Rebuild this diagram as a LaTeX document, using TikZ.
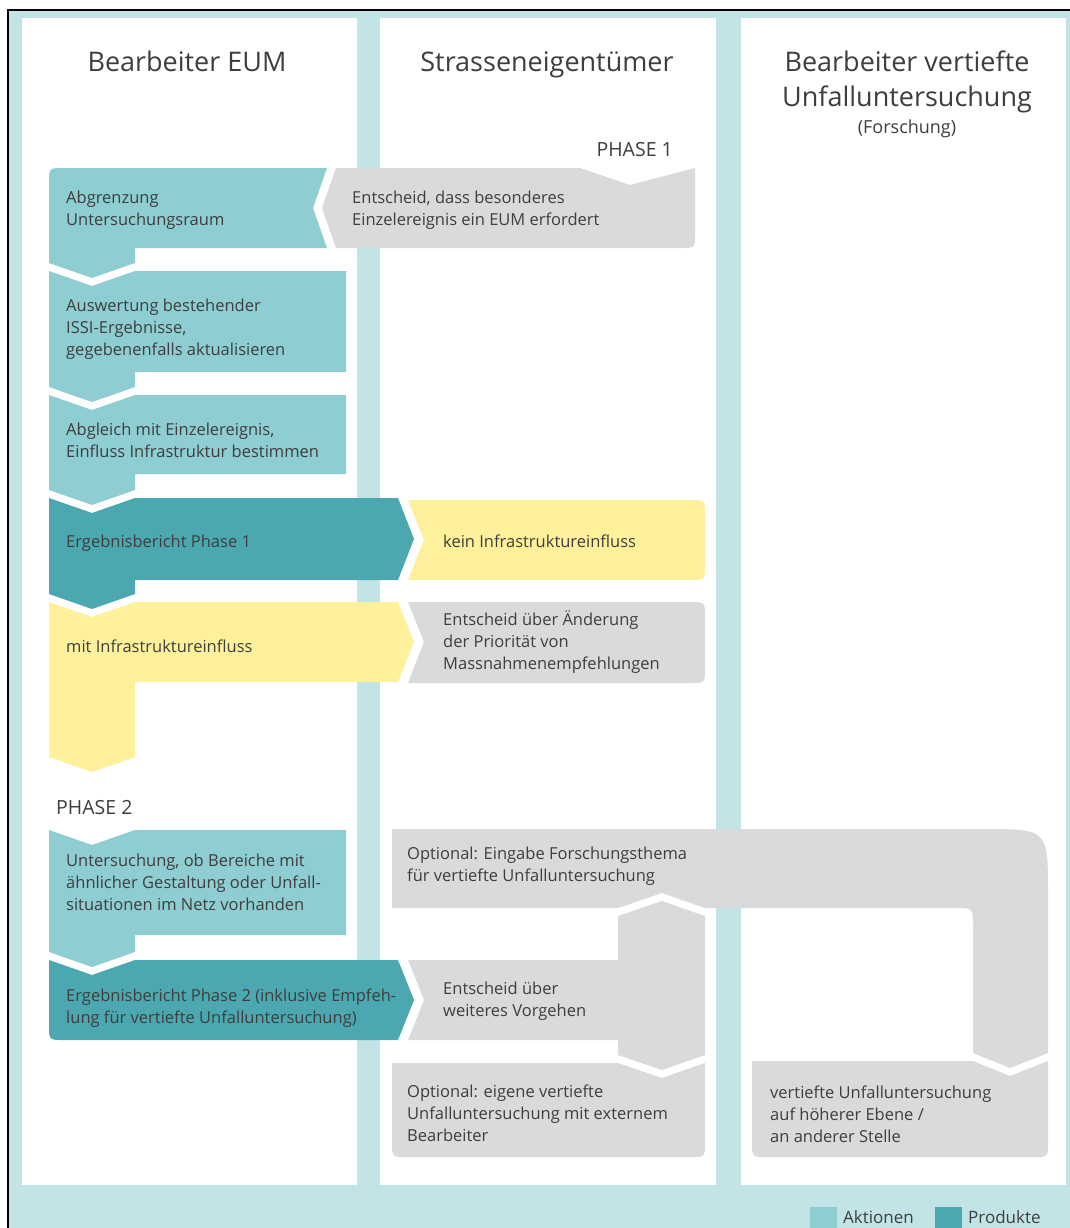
\documentclass[tikz,border=0pt]{standalone}
\usepackage{fontspec}
\setmainfont{Open Sans}
\definecolor{bgcyan}{HTML}{C3E4E6}
\definecolor{aktion}{HTML}{8ECDD1}
\definecolor{produkt}{HTML}{4BA8B0}
\definecolor{gelb}{HTML}{FFF19B}
\definecolor{grau}{HTML}{D9DADC}
\definecolor{schrift}{HTML}{3E3E3E}
\tikzset{
  lbl/.style={anchor=west, inner sep=0pt, align=left, text=schrift,
    font=\fontsize{16.5}{22}\selectfont},
  title/.style={anchor=base, inner sep=0pt, text=schrift, font=\fontsize{27}{36}\selectfont},
  phase/.style={inner sep=0pt, text=schrift, font=\fontsize{19.5}{24}\selectfont},
}
\begin{document}
\begin{tikzpicture}[x=1pt,y=-1pt]
\useasboundingbox (0,0) rectangle (1070,1228);
% frame and swimlanes
\fill[white] (0,0) rectangle (1070,1228);
\fill[bgcyan] (8,10) rectangle (1070,1228);
\fill[white] (22,18) rectangle (357,1185);
\fill[white] (380,18) rectangle (716,1185);
\fill[white] (741,18) rectangle (1066,1185);
\draw[black, line width=2pt] (8,1228) -- (8,10) -- (1070,10);

% lane titles
\node[title] (t1) at (187,72) {Bearbeiter EUM};
\node[title] (t2) at (547,72) {Strasseneigentümer};
\node[title] (t3) at (907,72) {Bearbeiter vertiefte};
\node[title] (t4) at (907,107) {Unfalluntersuchung};
\node[phase, anchor=base, font=\fontsize{18}{22}\selectfont] (t5) at (907,133) {(Forschung)};
\node[phase, anchor=east] (ph1) at (673,150) {PHASE 1};
\node[phase, anchor=west] (ph2) at (56,808) {PHASE 2};

% ---- Phase 1, left lane
\fill[aktion] (49,183) .. controls (49,168) .. (64,168) -- (327,168) -- (313,208)
  -- (327,248) -- (135,248) -- (135,263) -- (92,278) -- (49,263) -- cycle;
\fill[aktion] (49,271) -- (92,286) -- (135,271) -- (346,271) -- (346,372)
  -- (135,372) -- (135,387) -- (92,402) -- (49,387) -- cycle;
\fill[aktion] (49,395) -- (92,410) -- (135,395) -- (346,395) -- (346,474)
  -- (135,474) -- (135,490) -- (92,505) -- (49,490) -- cycle;
\fill[produkt] (49,498) -- (92,513) -- (135,498) -- (398,498) -- (414,539)
  -- (398,580) -- (135,580) -- (135,594) -- (92,609) -- (49,594) -- cycle;
\fill[gelb] (49,602) -- (92,617) -- (135,602) -- (398,602) -- (414,642)
  -- (398,682) -- (135,682) -- (135,757) -- (92,772) -- (49,757) -- cycle;

% ---- Phase 1, middle lane
\fill[grau] (336,168) -- (580,168) -- (630,185) -- (695,168) -- (695,233)
  .. controls (695,248) .. (680,248) -- (336,248) -- (322,208) -- cycle;
\fill[gelb] (408,500) -- (690,500) .. controls (705,500) .. (705,515) -- (705,565)
  .. controls (705,580) .. (690,580) -- (408,580) -- (424,540) -- cycle;
\fill[grau] (408,602) -- (690,602) .. controls (705,602) .. (705,617) -- (705,668)
  .. controls (705,683) .. (690,683) -- (408,683) -- (424,642) -- cycle;

% ---- Phase 2
\fill[aktion] (49,830) -- (92,845) -- (135,830) -- (346,830) -- (346,935)
  -- (135,935) -- (135,952) -- (92,967) -- (49,952) -- cycle;
\fill[produkt] (49,960) -- (92,975) -- (135,960) -- (398,960) -- (414,1000)
  -- (398,1040) -- (64,1040) .. controls (49,1040) .. (49,1025) -- cycle;
\fill[grau] (392,829) -- (983,829) .. controls (1048,829) .. (1048,894)
  -- (1048,1053) -- (1010,1068) -- (973,1053) -- (973,926)
  .. controls (973,908) .. (955,908) -- (705,908) -- (662,893) -- (618,908)
  -- (392,908) -- cycle;
\fill[grau] (408,960) -- (618,960) -- (618,916) -- (662,901) -- (705,916)
  -- (705,1055) -- (662,1070) -- (618,1055) -- (618,1040) -- (408,1040)
  -- (424,1000) -- cycle;
\fill[grau] (392,1063) -- (618,1063) -- (662,1078) -- (705,1063) -- (705,1142)
  .. controls (705,1157) .. (690,1157) -- (407,1157)
  .. controls (392,1157) .. (392,1142) -- cycle;
\fill[grau] (752,1061) -- (973,1061) -- (1010,1076) -- (1048,1061) -- (1048,1142)
  .. controls (1048,1157) .. (1033,1157) -- (767,1157)
  .. controls (752,1157) .. (752,1142) -- cycle;

% ---- labels
\node[lbl] (a1) at (66,210) {Abgrenzung\\Untersuchungsraum};
\node[lbl] (a2) at (66,329) {Auswertung bestehender\\ISSI-Ergebnisse,\\gegebenenfalls aktualisieren};
\node[lbl] (a3) at (66,440) {Abgleich mit Einzelereignis,\\Einfluss Infrastruktur bestimmen};
\node[lbl] (p1) at (66,543) {Ergebnisbericht Phase 1};
\node[lbl] (y1) at (66,646) {mit Infrastruktureinfluss};
\node[lbl] (g1) at (352,210) {Entscheid, dass besonderes\\Einzelereignis ein EUM erfordert};
\node[lbl] (y2) at (443,541) {kein Infrastruktureinfluss};
\node[lbl] (g2) at (443,642) {Entscheid über Änderung\\der Priorität von\\Massnahmenempfehlungen};
\node[lbl] (a4) at (66,882) {Untersuchung, ob Bereiche mit\\ähnlicher Gestaltung oder Unfall-\\situationen im Netz vorhanden};
\node[lbl] (p2) at (66,1008) {Ergebnisbericht Phase 2 (inklusive Empfeh-\\lung für vertiefte Unfalluntersuchung)};
\node[lbl] (g3) at (407,866) {Optional: Eingabe Forschungsthema\\für vertiefte Unfalluntersuchung};
\node[lbl] (g4) at (443,1001) {Entscheid über\\weiteres Vorgehen};
\node[lbl] (g5) at (407,1113) {Optional: eigene vertiefte\\Unfalluntersuchung mit externem\\Bearbeiter};
\node[lbl] (g6) at (770,1114) {vertiefte Unfalluntersuchung\\auf höherer Ebene /\\an anderer Stelle};

% ---- legend
\fill[aktion] (810,1207) rectangle (837,1228);
\node[lbl, font=\fontsize{17}{20}\selectfont] (lg1) at (843,1217) {Aktionen};
\fill[produkt] (935,1207) rectangle (962,1228);
\node[lbl, font=\fontsize{17}{20}\selectfont] (lg2) at (968,1217) {Produkte};
\end{tikzpicture}
\end{document}
